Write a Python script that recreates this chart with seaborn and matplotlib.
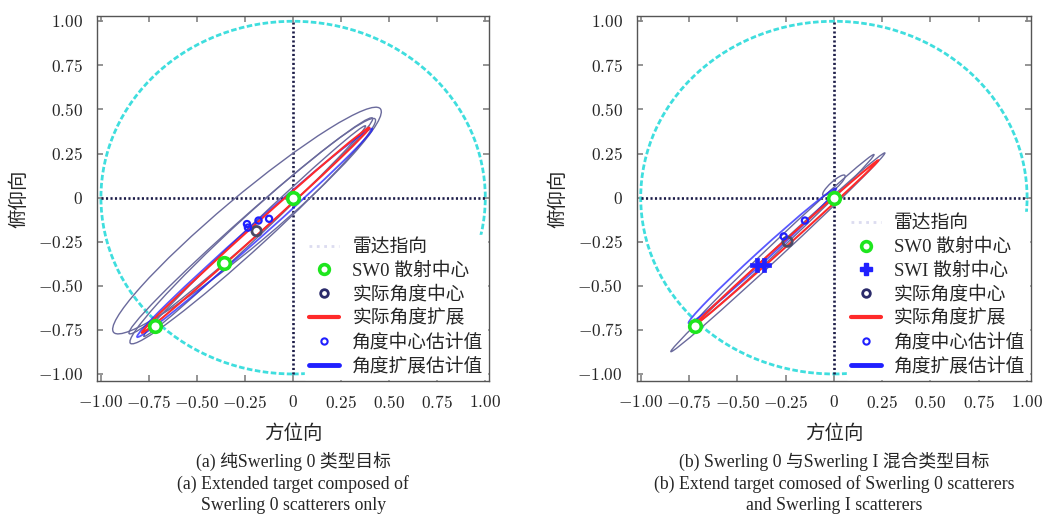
import numpy as np
import pandas as pd
import matplotlib
matplotlib.use('Agg')
import matplotlib.pyplot as plt
from matplotlib.patches import Ellipse, Circle
from matplotlib.lines import Line2D
import seaborn as sns

# ---- data ----
radar_r = 1.0
ticks = [-1.0, -0.75, -0.5, -0.25, 0.0, 0.25, 0.5, 0.75, 1.0]

# (a) pure Swerling 0
a_sw0_x = [0.0, -0.36, -0.72]
a_sw0_y = [0.0, -0.37, -0.73]
a_true_x = [-0.19]
a_true_y = [-0.19]
a_est_x = [-0.24, -0.235, -0.18, -0.125]
a_est_y = [-0.15, -0.17, -0.13, -0.12]
# estimated ellipses: centre x, centre y, full length, full width, angle
a_ell_cx = [-0.24, -0.21, -0.22, -0.20]
a_ell_cy = [-0.13, -0.19, -0.16, -0.19]
a_ell_len = [1.88, 1.80, 1.76, 1.66]
a_ell_wid = [0.27, 0.17, 0.12, 0.07]
a_ell_ang = [42.5, 45, 44, 46]
a_blue = [-0.20, -0.20, 1.70, 0.08, 44]
a_red = [-0.195, -0.185, 1.66, 0.05, 44.5]

# (b) Swerling 0 + Swerling I
b_sw0_x = [0.0, -0.72]
b_sw0_y = [0.0, -0.73]
b_sw1_x = [-0.36, -0.40]
b_sw1_y = [-0.38, -0.38]
b_true_x = [-0.24]
b_true_y = [-0.25]
b_est_x = [-0.26, -0.15]
b_est_y = [-0.22, -0.13]
b_ell_cx = [-0.29, -0.265, 0.0]
b_ell_cy = [-0.31, -0.245, 0.07]
b_ell_len = [1.58, 1.36, 0.16]
b_ell_wid = [0.05, 0.05, 0.04]
b_ell_ang = [45.5, 46, 45]
b_blue = [-0.37, -0.33, 1.08, 0.06, 45]
b_red = [-0.245, -0.255, 1.33, 0.03, 44.5]

captions = [
    "(a) 纯Swerling 0 类型目标\n(a) Extended target composed of\nSwerling 0 scatterers only",
    "(b) Swerling 0 与Swerling I 混合类型目标\n(b) Extend target comosed of Swerling 0 scatterers\nand Swerling I scatterers",
]

sns.set_theme(style='white')
plt.rcParams['font.family'] = ['Liberation Serif', 'Noto Sans CJK SC']
plt.rcParams['mathtext.fontset'] = 'cm'
CJK = ['Liberation Serif', 'Noto Sans CJK SC']

c_green = '#1ee61e'
c_navy = '#2b2b6b'
c_red = '#ff2a2a'
c_blue = '#2020ff'
c_cyan = '#3fdede'
c_ell = '#6a6a9c'
c_cross = '#1c1c48'

fig = plt.figure(figsize=(10.44, 5.16), dpi=100)
ax_a = fig.add_axes([0.093, 0.2616, 0.3755, 0.7074])
ax_b = fig.add_axes([0.610, 0.2616, 0.3775, 0.7074])


def fmt(v):
    if abs(v) < 1e-9:
        return '$0$'
    return '$%.2f$' % v


def draw(ax, sw0x, sw0y, truex, truey, estx, esty, cx, cy, ln, wd, ang, blue, red,
         sw1x=None, sw1y=None):
    ax.add_patch(Circle((0, 0), radar_r, fill=False, ec=c_cyan, lw=2.0,
                        ls=(0, (2.0, 0.9)), zorder=2))
    ax.hlines(0, -radar_r, radar_r, colors=c_cross, lw=1.9, ls=(0, (0.8, 0.9)), zorder=2)
    ax.vlines(0, -radar_r, radar_r, colors=c_cross, lw=1.9, ls=(0, (0.8, 0.9)), zorder=2)
    for x, y, l, w, a in zip(cx, cy, ln, wd, ang):
        ax.add_patch(Ellipse((x, y), l, w, angle=a, fill=False, ec=c_ell, lw=1.0, zorder=3))
    ax.add_patch(Ellipse((blue[0], blue[1]), blue[2], blue[3], angle=blue[4],
                         fill=False, ec=c_blue, lw=1.3, alpha=0.75, zorder=3))
    ax.add_patch(Ellipse((red[0], red[1]), red[2], red[3], angle=red[4],
                         fill=False, ec=c_red, lw=1.5, zorder=4))
    sns.scatterplot(x=sw0x, y=sw0y, ax=ax, marker='o', s=70, facecolor='white',
                    edgecolor=c_green, linewidth=2.6, zorder=5, legend=False)
    if sw1x is not None:
        sns.scatterplot(x=sw1x, y=sw1y, ax=ax, marker='P', s=95, color=c_blue,
                        edgecolor=c_blue, linewidth=0.5, zorder=6, legend=False)
    sns.scatterplot(x=truex, y=truey, ax=ax, marker='o', s=45, facecolor='none',
                    edgecolor='#4a4a66', linewidth=2, zorder=6, legend=False)
    sns.scatterplot(x=estx, y=esty, ax=ax, marker='o', s=20, facecolor='none',
                    edgecolor=c_blue, linewidth=1.6, zorder=6, legend=False)
    ax.set_xlim(-1.02, 1.02)
    ax.set_ylim(-1.04, 1.03)
    ax.set_xticks(ticks)
    ax.set_yticks(ticks)
    ax.set_xticklabels([fmt(t) for t in ticks], fontsize=12.5)
    ax.set_yticklabels([fmt(t) for t in ticks], fontsize=12.5)
    ax.tick_params(direction='in', length=4, color='#888888', top=True, right=True,
                   left=True, bottom=True, pad=10)
    for s in ax.spines.values():
        s.set_color('#555555')
        s.set_linewidth(1.0)
    ax.set_xlabel('方位向', fontsize=14, family=CJK, labelpad=9)
    ax.set_ylabel('俯仰向', fontsize=14, family=CJK, labelpad=7)

    handles = [Line2D([], [], color='#dcdcf0', ls=':', lw=2)]
    labels = ['雷达指向']
    handles.append(Line2D([], [], ls='none', marker='o', ms=7, mfc='white',
                          mec=c_green, mew=2.6))
    labels.append('SW0 散射中心')
    if sw1x is not None:
        handles.append(Line2D([], [], ls='none', marker='P', ms=9, color=c_blue))
        labels.append('SWI 散射中心')
    handles += [Line2D([], [], ls='none', marker='o', ms=5.5, mfc='white', mec=c_navy, mew=2),
                Line2D([], [], color=c_red, lw=3),
                Line2D([], [], ls='none', marker='o', ms=4.5, mfc='white', mec=c_blue, mew=1.5),
                Line2D([], [], color=c_blue, lw=3.5)]
    labels += ['实际角度中心', '实际角度扩展', '角度中心估计值', '角度扩展估计值']
    leg = ax.legend(handles, labels, loc='lower right', frameon=True, framealpha=1,
                    edgecolor='white', facecolor='white', fancybox=False,
                    prop={'family': CJK, 'size': 13.5}, handlelength=1.6,
                    handletextpad=0.7, labelspacing=0.33, borderpad=0.2,
                    borderaxespad=0.1)
    leg.set_zorder(10)


draw(ax_a, a_sw0_x, a_sw0_y, a_true_x, a_true_y, a_est_x, a_est_y,
     a_ell_cx, a_ell_cy, a_ell_len, a_ell_wid, a_ell_ang, a_blue, a_red)
draw(ax_b, b_sw0_x, b_sw0_y, b_true_x, b_true_y, b_est_x, b_est_y,
     b_ell_cx, b_ell_cy, b_ell_len, b_ell_wid, b_ell_ang, b_blue, b_red,
     sw1x=b_sw1_x, sw1y=b_sw1_y)

for ax, cap in zip([ax_a, ax_b], captions):
    pos = ax.get_position()
    fig.text(pos.x0 + pos.width / 2, 1 - 452 / 516, cap, ha='center', va='top',
             fontsize=12.8, family=CJK, linespacing=1.28)

fig.savefig('out.png', dpi=100)
